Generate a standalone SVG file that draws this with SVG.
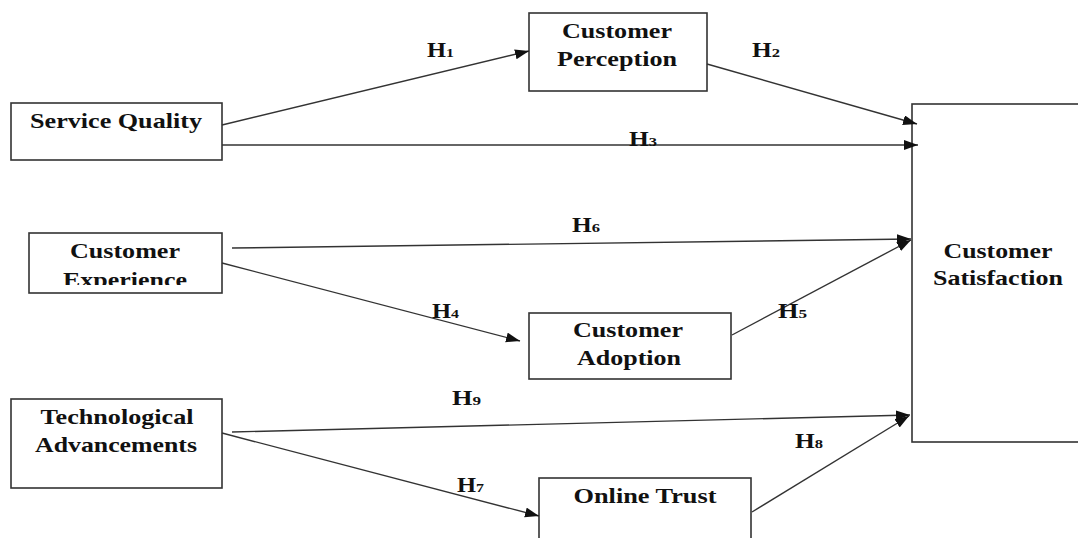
<svg xmlns="http://www.w3.org/2000/svg" width="1078" height="538" viewBox="0 0 1078 538">
<style>
.box{fill:#fff;stroke:#333;stroke-width:1.6}
.t{font-family:"Liberation Serif","Times New Roman",serif;font-weight:bold;font-size:21px;fill:#111;text-anchor:middle}
.h{font-family:"Liberation Serif","Times New Roman",serif;font-weight:bold;font-size:20px;fill:#111}
.h tspan{font-size:13px}
.c line{stroke:#333;stroke-width:1.4;marker-end:url(#arr)}
</style>
<defs>
<marker id="arr" markerUnits="userSpaceOnUse" markerWidth="16" markerHeight="12" refX="14" refY="5" orient="auto">
<path d="M0,0 L14,5 L0,10 z" fill="#111"/>
</marker>
<clipPath id="expClip"><rect x="29" y="233" width="193" height="52"/></clipPath>
</defs>
<rect width="1078" height="538" fill="#fff"/>
<g id="service-quality">
<rect class="box" x="11" y="103" width="211" height="57"/>
<text class="t" x="116" y="128" textLength="172" lengthAdjust="spacingAndGlyphs">Service Quality</text>
</g>
<g id="customer-perception">
<rect class="box" x="529" y="13" width="178" height="78"/>
<text class="t" x="617" y="38" textLength="110" lengthAdjust="spacingAndGlyphs">Customer</text>
<text class="t" x="617" y="66" textLength="120" lengthAdjust="spacingAndGlyphs">Perception</text>
</g>
<g id="customer-experience">
<rect class="box" x="29" y="233" width="193" height="60"/>
<text class="t" x="125" y="258" textLength="110" lengthAdjust="spacingAndGlyphs">Customer</text>
<text class="t" x="125" y="287" textLength="124" lengthAdjust="spacingAndGlyphs" clip-path="url(#expClip)">Experience</text>
</g>
<g id="customer-adoption">
<rect class="box" x="529" y="313" width="202" height="66"/>
<text class="t" x="628" y="337" textLength="110" lengthAdjust="spacingAndGlyphs">Customer</text>
<text class="t" x="629" y="365" textLength="104" lengthAdjust="spacingAndGlyphs">Adoption</text>
</g>
<g id="technological-advancements">
<rect class="box" x="11" y="399" width="211" height="89"/>
<text class="t" x="117" y="424" textLength="153" lengthAdjust="spacingAndGlyphs">Technological</text>
<text class="t" x="116" y="452" textLength="162" lengthAdjust="spacingAndGlyphs">Advancements</text>
</g>
<g id="online-trust">
<rect class="box" x="539" y="478" width="212" height="70"/>
<text class="t" x="645" y="503" textLength="143" lengthAdjust="spacingAndGlyphs">Online Trust</text>
</g>
<g id="customer-satisfaction">
<rect class="box" x="912" y="104" width="170" height="338"/>
<text class="t" x="998" y="258" textLength="109" lengthAdjust="spacingAndGlyphs">Customer</text>
<text class="t" x="998" y="285" textLength="130" lengthAdjust="spacingAndGlyphs">Satisfaction</text>
</g>
<g id="connectors" class="c">
<line x1="222" y1="125" x2="529" y2="51"/>
<line x1="707" y1="64" x2="917" y2="124"/>
<line x1="222" y1="145" x2="918" y2="145"/>
<line x1="222" y1="263" x2="520" y2="341"/>
<line x1="732" y1="335" x2="911" y2="240"/>
<line x1="232" y1="248" x2="911" y2="239"/>
<line x1="222" y1="433" x2="539" y2="516"/>
<line x1="752" y1="512" x2="909" y2="416"/>
<line x1="232" y1="432" x2="910" y2="415"/>
</g>
<g id="labels">
<text class="h" x="427" y="57" textLength="27" lengthAdjust="spacingAndGlyphs">H<tspan>1</tspan></text>
<text class="h" x="752" y="57" textLength="28" lengthAdjust="spacingAndGlyphs">H<tspan>2</tspan></text>
<text class="h" x="629" y="146" textLength="28" lengthAdjust="spacingAndGlyphs">H<tspan>3</tspan></text>
<text class="h" x="432" y="318" textLength="27" lengthAdjust="spacingAndGlyphs">H<tspan>4</tspan></text>
<text class="h" x="778" y="318" textLength="29" lengthAdjust="spacingAndGlyphs">H<tspan>5</tspan></text>
<text class="h" x="572" y="232" textLength="28" lengthAdjust="spacingAndGlyphs">H<tspan>6</tspan></text>
<text class="h" x="457" y="492" textLength="27" lengthAdjust="spacingAndGlyphs">H<tspan>7</tspan></text>
<text class="h" x="795" y="448" textLength="28" lengthAdjust="spacingAndGlyphs">H<tspan>8</tspan></text>
<text class="h" x="452" y="405" textLength="29" lengthAdjust="spacingAndGlyphs">H<tspan>9</tspan></text>
</g>
</svg>
